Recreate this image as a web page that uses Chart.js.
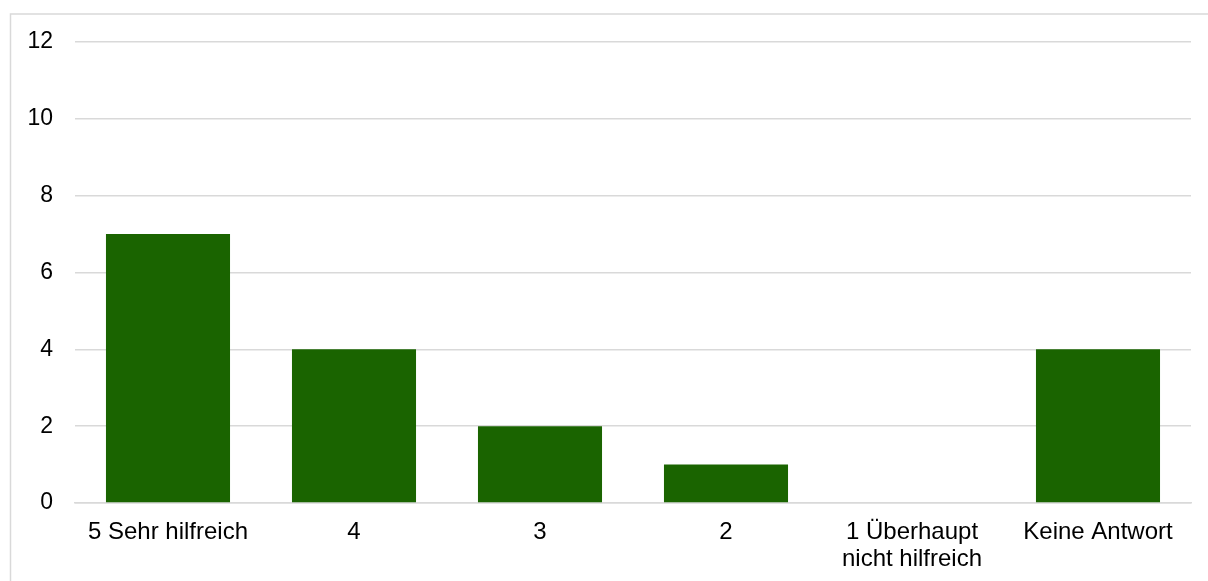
<!DOCTYPE html>
<html>
<head>
<meta charset="utf-8">
<style>
  html, body { margin: 0; padding: 0; background: #ffffff; }
  #wrap { width: 1208px; height: 581px; position: relative; }
</style>
<script src="https://cdn.jsdelivr.net/npm/chart.js@4/dist/chart.umd.min.js"></script>
</head>
<body>
<div id="wrap"><canvas id="c" width="1208" height="581"></canvas></div>
<script>
// Antworten zur Frage „Wie hilfreich …?“
const categories = ['5 Sehr hilfreich', '4', '3', '2', ['1 Überhaupt', 'nicht hilfreich'], 'Keine Antwort'];
const counts = [7, 4, 2, 1, 0, 4];
const yTicks = [0, 2, 4, 6, 8, 10, 12];

const barColor = '#1a6400';
const gridColor = '#d9d9d9';
const family = 'Arial, "Liberation Sans", sans-serif';

// outer frame of the chart box
const framePlugin = {
  id: 'frame',
  beforeDraw(chart) {
    const ctx = chart.ctx;
    ctx.save();
    ctx.strokeStyle = gridColor;
    ctx.lineWidth = 1.5;
    ctx.strokeRect(10.5, 14, 1400, 800);
    ctx.restore();
  }
};

new Chart(document.getElementById('c'), {
  type: 'bar',
  data: {
    labels: categories,
    datasets: [{
      data: counts,
      backgroundColor: barColor,
      borderWidth: 0,
      categoryPercentage: 0.667,
      barPercentage: 1.0
    }]
  },
  options: {
    responsive: false,
    animation: false,
    devicePixelRatio: 1,
    layout: { padding: { left: 0, right: 17, top: 42, bottom: 0 } },
    plugins: {
      legend: { display: false },
      tooltip: { enabled: false }
    },
    scales: {
      x: {
        grid: { display: false, drawTicks: false },
        border: { display: true, color: gridColor, width: 1.5 },
        ticks: {
          color: '#000',
          font: { family: family, size: 24, lineHeight: 1.11 },
          padding: 16, maxRotation: 0, autoSkip: false
        },
        afterFit(scale) { scale.height = 78; }
      },
      y: {
        min: 0,
        max: 12,
        afterBuildTicks(scale) { scale.ticks = yTicks.map(v => ({ value: v })); },
        grid: { color: gridColor, lineWidth: 1.5, drawTicks: false },
        border: { display: false },
        ticks: { color: '#000', font: { family: family, size: 23 }, padding: 22 },
        afterFit(scale) { scale.width = 75; }
      }
    }
  },
  plugins: [framePlugin]
});
</script>
</body>
</html>
